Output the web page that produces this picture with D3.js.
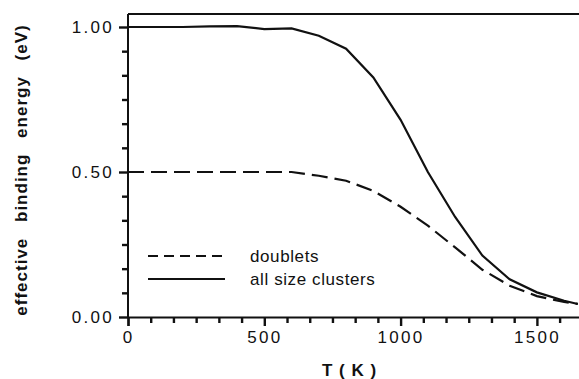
<!DOCTYPE html>
<html>
<head>
<meta charset="utf-8">
<script src="https://cdn.jsdelivr.net/npm/d3@7"></script>
<style>
	body { margin: 0; background: #fff; }
	svg { display: block; font-family: "Liberation Sans", Arial, sans-serif; }
</style>
</head>
<body>
<div id="chartContainer"></div>
<script>

// temperatures (K) and effective binding energies (eV)
let temps = [0, 100, 200, 300, 400, 500, 600, 700, 800, 900, 1000, 1100, 1200, 1300, 1400, 1500, 1600, 1650];
let allClusters = [1.0, 1.0, 1.0, 1.002, 1.003, 0.993, 0.995, 0.97, 0.925, 0.826, 0.68, 0.50, 0.345, 0.212, 0.13, 0.085, 0.056, 0.045];
let doublets = [0.5, 0.5, 0.5, 0.5, 0.5, 0.5, 0.5, 0.487, 0.47, 0.435, 0.38, 0.315, 0.24, 0.163, 0.108, 0.072, 0.052, 0.045];

let xTicks = [0, 500, 1000, 1500];
let yTicks = [0, 0.5, 1.0];
let legendLabels = ["doublets", "all size clusters"];

function drawChart(){

	let svg = d3.select("#chartContainer")
		.append("svg")
		.attr("width", 579)
		.attr("height", 379);

	let xScale = d3.scaleLinear()
		.domain([0, 1700])
		.range([128, 128 + 1700 * 0.2726]);

	let yScale = d3.scaleLinear()
		.domain([0, 1])
		.range([317, 27]);

	let yTop = yScale(1.045);

	// frame: top line + left axis
	svg.append("line")
		.attr("x1", xScale(0)).attr("x2", 579)
		.attr("y1", yTop).attr("y2", yTop)
		.attr("stroke", "#111").attr("stroke-width", 2);
	svg.append("line")
		.attr("x1", xScale(0)).attr("x2", xScale(0))
		.attr("y1", yTop).attr("y2", yScale(0))
		.attr("stroke", "#111").attr("stroke-width", 2);

	// minor ticks, every 1/6 of a major step
	let xMinor = [];
	for (let k = 1; k < 21; k++) if (k % 6 !== 0) xMinor.push(k * 500 / 6);
	let yMinor = [];
	for (let k = 1; k < 12; k++) if (k % 6 !== 0) yMinor.push(k / 12);

	svg.append("g")
		.attr("class", "minor")
		.attr("transform", "translate(0," + yScale(0) + ")")
		.call(d3.axisBottom(xScale).tickValues(xMinor).tickSize(6).tickFormat(""));

	svg.append("g")
		.attr("class", "minor")
		.attr("transform", "translate(" + xScale(0) + ",0)")
		.call(d3.axisLeft(yScale).tickValues(yMinor).tickSize(6).tickFormat(""));

	let xAxis = svg.append("g")
		.attr("transform", "translate(0," + yScale(0) + ")")
		.call(d3.axisBottom(xScale).tickValues(xTicks).tickSize(9).tickPadding(5)
			.tickFormat(d3.format("d")));

	let yAxis = svg.append("g")
		.attr("transform", "translate(" + xScale(0) + ",0)")
		.call(d3.axisLeft(yScale).tickValues(yTicks).tickSize(9).tickPadding(5)
			.tickFormat(d3.format(".2f")));

	svg.selectAll(".domain").attr("stroke", "#111").attr("stroke-width", 2);
	svg.selectAll(".tick line").attr("stroke", "#111").attr("stroke-width", 2.4);
	svg.selectAll(".tick text")
		.attr("fill", "#111")
		.style("font-size", "17px")
		.style("letter-spacing", "2.3px")
		.style("font-family", "Liberation Sans, Arial, sans-serif");
	yAxis.select(".domain").remove();
	svg.selectAll(".minor .domain").remove();

	// curves
	let lineGen = d3.line()
		.x((d, i) => xScale(temps[i]))
		.y(d => yScale(d));

	svg.append("path")
		.datum(doublets)
		.attr("d", lineGen)
		.attr("fill", "none")
		.attr("stroke", "#111")
		.attr("stroke-width", 2.2)
		.attr("stroke-dasharray", "16,7");

	svg.append("path")
		.datum(allClusters)
		.attr("d", lineGen)
		.attr("fill", "none")
		.attr("stroke", "#111")
		.attr("stroke-width", 2.2);

	// legend
	let legend = svg.append("g");
	legendLabels.forEach((label, i) => {
		let ly = 256 + i * 23;
		legend.append("line")
			.attr("x1", 148).attr("x2", 225)
			.attr("y1", ly).attr("y2", ly)
			.attr("stroke", "#111").attr("stroke-width", 2)
			.attr("stroke-dasharray", i === 0 ? "10,6" : null);
		legend.append("text")
			.attr("x", 250).attr("y", ly + 6)
			.attr("fill", "#111")
			.style("font-size", "17px")
			.style("letter-spacing", "0.6px")
			.text(label);
	});

	// axis titles
	svg.append("text")
		.attr("x", 349).attr("y", 376)
		.attr("text-anchor", "middle")
		.attr("fill", "#111")
		.style("font-size", "17px")
		.style("font-weight", "bold")
		.style("word-spacing", "2px")
		.text("T ( K )");

	svg.append("text")
		.attr("transform", "translate(27,170) rotate(-90)")
		.attr("text-anchor", "middle")
		.attr("fill", "#111")
		.style("font-size", "17px")
		.style("font-weight", "bold")
		.style("letter-spacing", "1px")
		.style("word-spacing", "10px")
		.text("effective binding energy (eV)");
}

drawChart();
</script>
</body>
</html>
